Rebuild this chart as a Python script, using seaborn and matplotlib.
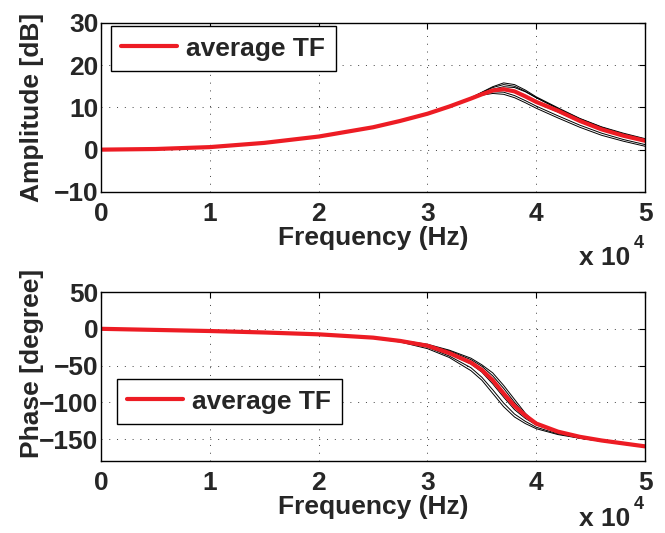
import numpy as np
import pandas as pd
import matplotlib
matplotlib.use("Agg")
import matplotlib.pyplot as plt
import seaborn as sns

# frequency grid (Hz)
freq = [0, 5000, 10000, 15000, 20000, 25000, 27500, 30000, 32000, 34000, 35000,
        36000, 37000, 38000, 39000, 40000, 42000, 44000, 46000, 48000, 50000]

# amplitude [dB] of the measured transfer functions
amp_1 = [0, 0.15, 0.6, 1.6, 3.1, 5.3, 6.8, 8.4, 10.2, 12.3, 13.6, 14.9, 15.8, 15.4, 14.1, 12.5, 9.9, 7.4, 5.4, 3.9, 2.6]
amp_2 = [0, 0.15, 0.6, 1.6, 3.1, 5.3, 6.8, 8.4, 10.2, 12.3, 13.5, 14.7, 15.4, 15.0, 13.8, 12.3, 9.7, 7.3, 5.3, 3.7, 2.5]
amp_3 = [0, 0.15, 0.6, 1.6, 3.1, 5.3, 6.8, 8.5, 10.3, 12.2, 13.3, 14.3, 14.9, 14.7, 13.7, 12.3, 9.7, 7.2, 5.2, 3.6, 2.4]
amp_4 = [0, 0.15, 0.6, 1.6, 3.1, 5.3, 6.9, 8.5, 10.3, 12.2, 13.2, 14.1, 14.4, 13.8, 12.5, 11.1, 8.9, 6.6, 4.6, 3.1, 1.9]
amp_5 = [0, 0.15, 0.6, 1.6, 3.1, 5.4, 6.9, 8.6, 10.4, 12.2, 13.1, 13.7, 13.6, 12.8, 11.6, 10.3, 8.0, 5.8, 3.9, 2.4, 1.2]
amp_6 = [0, 0.15, 0.6, 1.6, 3.1, 5.4, 6.9, 8.6, 10.4, 12.1, 12.9, 13.3, 13.1, 12.3, 11.1, 9.8, 7.5, 5.3, 3.4, 2.0, 0.8]
amp_avg = [0, 0.15, 0.6, 1.6, 3.1, 5.3, 6.8, 8.5, 10.2, 12.1, 13.1, 14.0, 14.3, 13.8, 12.6, 11.3, 9.2, 6.8, 4.8, 3.3, 2.1]

# phase [degree]
ph_1 = [0, -1.5, -3, -5, -7.5, -11.5, -15.5, -21, -29, -40, -49, -60, -77, -96, -115, -129, -142, -149, -153, -157, -161]
ph_2 = [0, -1.5, -3, -5, -7.5, -11.5, -15.5, -22, -30, -42, -51, -64, -81, -100, -117, -130, -141, -148, -152, -156, -160]
ph_3 = [0, -1.5, -3, -5, -7.5, -12, -16, -23, -32, -45, -55, -69, -87, -105, -119, -129, -140, -147, -152, -156, -160]
ph_4 = [0, -1.5, -3, -5, -7.5, -12, -16.5, -24, -34, -48, -59, -75, -93, -110, -122, -131, -141, -147, -152, -156, -160]
ph_5 = [0, -1.5, -3, -5, -8, -12.5, -17, -25, -37, -53, -66, -83, -101, -116, -126, -134, -143, -148, -153, -157, -161]
ph_6 = [0, -1.5, -3, -5, -8, -13, -18, -27, -39, -57, -70, -88, -106, -120, -129, -136, -144, -149, -153, -157, -161]
ph_avg = [0, -1.5, -3, -5, -7.5, -12, -16.5, -23, -33, -46, -56, -70, -88, -105, -118, -129, -140, -147, -152, -156, -160]

amps = [amp_1, amp_2, amp_3, amp_4, amp_5, amp_6]
phases = [ph_1, ph_2, ph_3, ph_4, ph_5, ph_6]

rows = []
for i, (a, p) in enumerate(zip(amps, phases)):
    for f, av, pv in zip(freq, a, p):
        rows.append({"curve": i, "freq": f, "amp": av, "phase": pv})
df = pd.DataFrame(rows)
avg = pd.DataFrame({"freq": freq, "amp": amp_avg, "phase": ph_avg})

sns.set_style("white")
plt.rcParams['font.family'] = ['Liberation Sans', 'DejaVu Sans']
plt.rcParams['font.weight'] = 'bold'
plt.rcParams['axes.labelweight'] = 'bold'
fs = 19
red = '#ED1C24'

fig = plt.figure(figsize=(6.65, 5.33), dpi=100)
ax1 = fig.add_axes([0.152, 0.640, 0.818, 0.317])
ax2 = fig.add_axes([0.152, 0.135, 0.818, 0.317])

for ax, col, ylim, yt, ylab, ty in [
        (ax1, "amp", (-10, 30), [-10, 0, 10, 20, 30], "Amplitude [dB]", -0.43),
        (ax2, "phase", (-180, 50), [-150, -100, -50, 0, 50], "Phase [degree]", -0.385)]:
    sns.lineplot(data=df, x="freq", y=col, units="curve", estimator=None,
                 color="black", lw=0.7, ax=ax, legend=False)
    sns.lineplot(data=avg, x="freq", y=col, color=red, lw=3, ax=ax, label="average TF")
    ax.set_xlim(0, 50000)
    ax.set_ylim(*ylim)
    ax.set_xticks([0, 10000, 20000, 30000, 40000, 50000])
    ax.set_xticklabels(['0', '1', '2', '3', '4', '5'])
    ax.set_yticks(yt)
    ax.tick_params(direction='in', length=4, top=True, right=True, labelsize=fs,
                   width=0.8, color='black')
    ax.tick_params(axis='x', pad=7)
    ax.tick_params(axis='y', pad=2)
    ax.grid(True, linestyle=(0, (1, 7)), color='0.25', lw=0.7)
    for s in ax.spines.values():
        s.set_visible(True)
        s.set_color('black')
        s.set_linewidth(1.0)
    ax.set_xlabel("Frequency (Hz)", fontsize=fs, labelpad=0)
    ax.set_ylabel(ylab, fontsize=fs)
    ax.text(0.972, ty, 'x 10', transform=ax.transAxes, ha='right', va='baseline',
            fontsize=fs, fontweight='bold')
    ax.text(0.98, ty + 0.1, '4', transform=ax.transAxes, ha='left', va='baseline',
            fontsize=13, fontweight='bold')

ax1.yaxis.set_label_coords(-0.105, 0.5)
ax2.yaxis.set_label_coords(-0.105, 0.58)

for ax, anchor in [(ax1, (0.018, 0.982)), (ax2, (0.029, 0.485))]:
    leg = ax.legend(loc='upper left', bbox_to_anchor=anchor, borderaxespad=0,
                    fancybox=False, framealpha=1, edgecolor='black',
                    prop={'size': fs, 'weight': 'bold'}, handlelength=2.1,
                    handletextpad=0.35, borderpad=0.4)
    leg.get_frame().set_linewidth(1.0)

fig.savefig("out.png", dpi=100)
